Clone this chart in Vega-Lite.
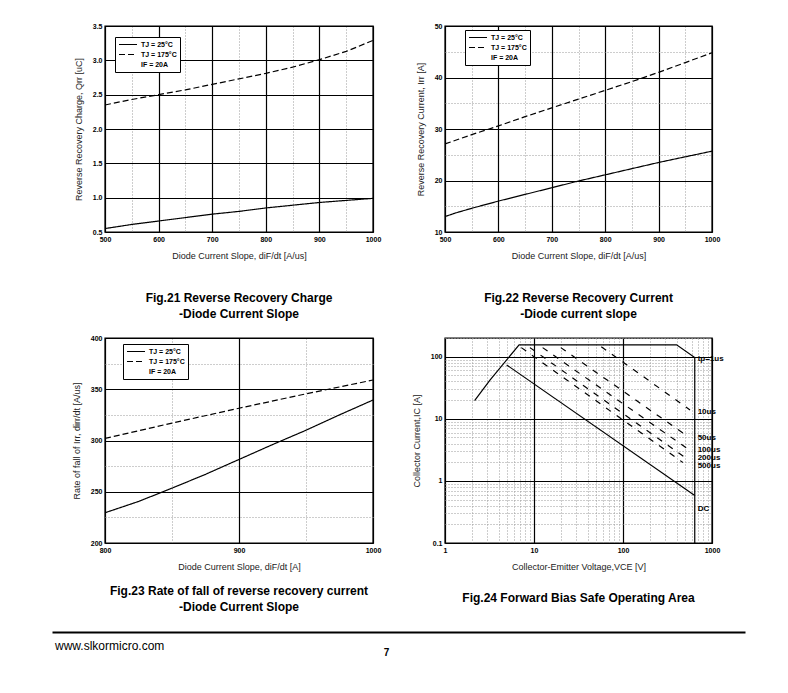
{
  "$schema": "https://vega.github.io/schema/vega-lite/v6.json",
  "padding": {"left": 55, "top": 21, "right": 5, "bottom": 5},
  "background": "white",
  "columns": 2,
  "bounds": "flush",
  "align": "none",
  "spacing": {"row": 106, "column": 72},
  "resolve": {"scale": {"strokeDash": "independent"}, "legend": {"strokeDash": "independent"}},
  "config": {
    "font": "Liberation Sans",
    "view": {"stroke": "black", "strokeWidth": 1.4},
    "axis": {
      "domain": false, "ticks": false, "grid": true, "gridColor": "black", "gridWidth": 1.2, "gridOpacity": 1,
      "labelFontSize": 7, "labelFontWeight": "bold", "labelColor": "black", "labelPadding": 3,
      "labelFlush": false, "labelOverlap": false, "labelBound": false,
      "titleFontSize": 9, "titleFontWeight": "normal", "titleColor": "#222222", "titlePadding": 9
    },
    "legend": {
      "orient": "none", "symbolType": "stroke", "symbolStrokeColor": "black", "symbolStrokeWidth": 1.2,
      "symbolSize": 324, "clipHeight": 9, "labelFontSize": 7, "labelFontWeight": "bold", "labelColor": "black",
      "fillColor": "white", "strokeColor": "black", "padding": 3, "rowPadding": 1, "labelOffset": 3
    },
    "title": {"fontSize": 12, "fontWeight": "bold", "color": "black", "orient": "bottom", "anchor": "middle", "lineHeight": 16}
  },
  "datasets": {
    "qrr": [
      {"slope": 500, "value": 0.55, "series": "TJ = 25°C"},
      {"slope": 550, "value": 0.61, "series": "TJ = 25°C"},
      {"slope": 600, "value": 0.66, "series": "TJ = 25°C"},
      {"slope": 650, "value": 0.71, "series": "TJ = 25°C"},
      {"slope": 700, "value": 0.76, "series": "TJ = 25°C"},
      {"slope": 750, "value": 0.80, "series": "TJ = 25°C"},
      {"slope": 800, "value": 0.85, "series": "TJ = 25°C"},
      {"slope": 850, "value": 0.89, "series": "TJ = 25°C"},
      {"slope": 900, "value": 0.93, "series": "TJ = 25°C"},
      {"slope": 950, "value": 0.96, "series": "TJ = 25°C"},
      {"slope": 1000, "value": 0.99, "series": "TJ = 25°C"},
      {"slope": 500, "value": 2.35, "series": "TJ = 175°C"},
      {"slope": 550, "value": 2.43, "series": "TJ = 175°C"},
      {"slope": 600, "value": 2.50, "series": "TJ = 175°C"},
      {"slope": 650, "value": 2.57, "series": "TJ = 175°C"},
      {"slope": 700, "value": 2.65, "series": "TJ = 175°C"},
      {"slope": 750, "value": 2.73, "series": "TJ = 175°C"},
      {"slope": 800, "value": 2.81, "series": "TJ = 175°C"},
      {"slope": 850, "value": 2.90, "series": "TJ = 175°C"},
      {"slope": 900, "value": 3.01, "series": "TJ = 175°C"},
      {"slope": 950, "value": 3.13, "series": "TJ = 175°C"},
      {"slope": 1000, "value": 3.29, "series": "TJ = 175°C"}
    ],
    "irr": [
      {"slope": 500, "value": 13.0, "series": "TJ = 25°C"},
      {"slope": 520, "value": 13.7, "series": "TJ = 25°C"},
      {"slope": 550, "value": 14.6, "series": "TJ = 25°C"},
      {"slope": 600, "value": 16.0, "series": "TJ = 25°C"},
      {"slope": 650, "value": 17.3, "series": "TJ = 25°C"},
      {"slope": 700, "value": 18.6, "series": "TJ = 25°C"},
      {"slope": 750, "value": 19.9, "series": "TJ = 25°C"},
      {"slope": 800, "value": 21.1, "series": "TJ = 25°C"},
      {"slope": 850, "value": 22.3, "series": "TJ = 25°C"},
      {"slope": 900, "value": 23.5, "series": "TJ = 25°C"},
      {"slope": 950, "value": 24.6, "series": "TJ = 25°C"},
      {"slope": 1000, "value": 25.7, "series": "TJ = 25°C"},
      {"slope": 500, "value": 27.1, "series": "TJ = 175°C"},
      {"slope": 550, "value": 28.9, "series": "TJ = 175°C"},
      {"slope": 600, "value": 30.6, "series": "TJ = 175°C"},
      {"slope": 650, "value": 32.4, "series": "TJ = 175°C"},
      {"slope": 700, "value": 34.1, "series": "TJ = 175°C"},
      {"slope": 750, "value": 35.8, "series": "TJ = 175°C"},
      {"slope": 800, "value": 37.5, "series": "TJ = 175°C"},
      {"slope": 850, "value": 39.2, "series": "TJ = 175°C"},
      {"slope": 900, "value": 41.0, "series": "TJ = 175°C"},
      {"slope": 950, "value": 42.9, "series": "TJ = 175°C"},
      {"slope": 1000, "value": 44.8, "series": "TJ = 175°C"}
    ],
    "dirr": [
      {"slope": 800, "value": 229.5, "series": "TJ = 25°C"},
      {"slope": 825, "value": 240.5, "series": "TJ = 25°C"},
      {"slope": 850, "value": 253.5, "series": "TJ = 25°C"},
      {"slope": 875, "value": 267.0, "series": "TJ = 25°C"},
      {"slope": 900, "value": 281.5, "series": "TJ = 25°C"},
      {"slope": 925, "value": 296.0, "series": "TJ = 25°C"},
      {"slope": 950, "value": 310.0, "series": "TJ = 25°C"},
      {"slope": 975, "value": 325.0, "series": "TJ = 25°C"},
      {"slope": 1000, "value": 339.5, "series": "TJ = 25°C"},
      {"slope": 800, "value": 302.0, "series": "TJ = 175°C"},
      {"slope": 850, "value": 317.0, "series": "TJ = 175°C"},
      {"slope": 900, "value": 331.5, "series": "TJ = 175°C"},
      {"slope": 950, "value": 345.5, "series": "TJ = 175°C"},
      {"slope": 1000, "value": 359.0, "series": "TJ = 175°C"}
    ],
    "soa_lines": [
      {"curve": "tp=1us", "k": 0, "v": 2.15, "i": 19.6},
      {"curve": "tp=1us", "k": 1, "v": 3.2, "i": 42},
      {"curve": "tp=1us", "k": 2, "v": 6.8, "i": 155},
      {"curve": "tp=1us", "k": 3, "v": 400, "i": 155},
      {"curve": "tp=1us", "k": 4, "v": 640, "i": 97},
      {"curve": "tp=1us", "k": 5, "v": 640, "i": 0.1},
      {"curve": "DC", "k": 0, "v": 4.93, "i": 73.6},
      {"curve": "DC", "k": 1, "v": 640, "i": 0.58}
    ],
    "soa_pulse": [
      {"pulse": "10us", "v": 57, "i": 145},
      {"pulse": "10us", "v": 566, "i": 13.9},
      {"pulse": "50us", "v": 20, "i": 140},
      {"pulse": "50us", "v": 525, "i": 5.3},
      {"pulse": "100us", "v": 12.5, "i": 140},
      {"pulse": "100us", "v": 515, "i": 3.4},
      {"pulse": "200us", "v": 9, "i": 140},
      {"pulse": "200us", "v": 480, "i": 2.47},
      {"pulse": "500us", "v": 7.2, "i": 140},
      {"pulse": "500us", "v": 470, "i": 1.98}
    ],
    "soa_labels": [
      {"label": "tp=1us", "v": 690, "i": 92},
      {"label": "10us", "v": 690, "i": 13.1},
      {"label": "50us", "v": 690, "i": 4.9},
      {"label": "100us", "v": 690, "i": 3.1},
      {"label": "200us", "v": 690, "i": 2.33},
      {"label": "500us", "v": 690, "i": 1.71},
      {"label": "DC", "v": 690, "i": 0.35}
    ],
    "footer": [{"page": "7"}]
  },
  "concat": [
    {
      "width": 268, "height": 206,
      "title": {"text": ["Fig.21 Reverse Recovery Charge", "-Diode Current Slope"], "offset": 33},
      "data": {"name": "qrr"},
      "mark": {"type": "line", "color": "black", "strokeWidth": 1.2},
      "encoding": {
        "x": {"field": "slope", "type": "quantitative", "scale": {"domain": [500, 1000], "nice": false, "zero": false},
          "axis": {"title": "Diode Current Slope, diF/dt [A/us]", "format": "d", "values": [500, 550, 600, 650, 700, 750, 800, 850, 900, 950, 1000],
            "labelExpr": "datum.value % 100 === 0 ? datum.label : ''",
            "gridDash": {"condition": {"test": "datum.value % 100 !== 0", "value": [1, 2]}, "value": []},
            "gridColor": {"condition": {"test": "datum.value % 100 !== 0", "value": "#9a9a9a"}, "value": "black"},
            "gridWidth": {"condition": {"test": "datum.value % 100 !== 0", "value": 1}, "value": 1.2}}},
        "y": {"field": "value", "type": "quantitative", "scale": {"domain": [0.5, 3.5], "nice": false, "zero": false},
          "axis": {"title": "Reverse Recovery Charge, Qrr [uC]", "values": [0.5, 1, 1.5, 2, 2.5, 3, 3.5], "format": ".1f"}},
        "strokeDash": {"field": "series", "type": "nominal",
          "scale": {"domain": ["TJ = 25°C", "TJ = 175°C", "IF = 20A"], "range": [[1, 0], [6, 3], [0, 100]]},
          "legend": {"title": null, "legendX": 10, "legendY": 11}}
      }
    },
    {
      "width": 267, "height": 206,
      "title": {"text": ["Fig.22 Reverse Recovery Current", "-Diode current slope"], "offset": 33},
      "data": {"name": "irr"},
      "mark": {"type": "line", "color": "black", "strokeWidth": 1.2},
      "encoding": {
        "x": {"field": "slope", "type": "quantitative", "scale": {"domain": [500, 1000], "nice": false, "zero": false},
          "axis": {"title": "Diode Current Slope, diF/dt [A/us]", "format": "d", "values": [500, 550, 600, 650, 700, 750, 800, 850, 900, 950, 1000],
            "labelExpr": "datum.value % 100 === 0 ? datum.label : ''",
            "gridDash": {"condition": {"test": "datum.value % 100 !== 0", "value": [1, 2]}, "value": []},
            "gridColor": {"condition": {"test": "datum.value % 100 !== 0", "value": "#9a9a9a"}, "value": "black"},
            "gridWidth": {"condition": {"test": "datum.value % 100 !== 0", "value": 1}, "value": 1.2}}},
        "y": {"field": "value", "type": "quantitative", "scale": {"domain": [10, 50], "nice": false, "zero": false},
          "axis": {"title": "Reverse Recovery Current, Irr [A]", "values": [10, 15, 20, 25, 30, 35, 40, 45, 50],
            "labelExpr": "datum.value % 10 === 0 ? datum.label : ''",
            "gridDash": {"condition": {"test": "datum.value % 10 !== 0", "value": [1, 2]}, "value": []},
            "gridColor": {"condition": {"test": "datum.value % 10 !== 0", "value": "#9a9a9a"}, "value": "black"},
            "gridWidth": {"condition": {"test": "datum.value % 10 !== 0", "value": 1}, "value": 1.2}}},
        "strokeDash": {"field": "series", "type": "nominal",
          "scale": {"domain": ["TJ = 25°C", "TJ = 175°C", "IF = 20A"], "range": [[1, 0], [6, 3], [0, 100]]},
          "legend": {"title": null, "legendX": 20, "legendY": 4}}
      }
    },
    {
      "width": 268, "height": 205,
      "title": {"text": ["Fig.23 Rate of fall of reverse recovery current", "-Diode Current Slope"], "offset": 15},
      "data": {"name": "dirr"},
      "mark": {"type": "line", "color": "black", "strokeWidth": 1.2},
      "encoding": {
        "x": {"field": "slope", "type": "quantitative", "scale": {"domain": [800, 1000], "nice": false, "zero": false},
          "axis": {"title": "Diode Current Slope, diF/dt [A]", "format": "d", "values": [800, 850, 900, 950, 1000],
            "labelExpr": "datum.value % 100 === 0 ? datum.label : ''",
            "gridDash": {"condition": {"test": "datum.value % 100 !== 0", "value": [1, 2]}, "value": []},
            "gridColor": {"condition": {"test": "datum.value % 100 !== 0", "value": "#9a9a9a"}, "value": "black"},
            "gridWidth": {"condition": {"test": "datum.value % 100 !== 0", "value": 1}, "value": 1.2}}},
        "y": {"field": "value", "type": "quantitative", "scale": {"domain": [200, 400], "nice": false, "zero": false},
          "axis": {"title": "Rate of fall of Irr, dirr/dt [A/us]", "values": [200, 225, 250, 275, 300, 325, 350, 375, 400],
            "labelExpr": "datum.value % 50 === 0 ? datum.label : ''",
            "gridDash": {"condition": {"test": "datum.value % 50 !== 0", "value": [1, 2]}, "value": []},
            "gridColor": {"condition": {"test": "datum.value % 50 !== 0", "value": "#9a9a9a"}, "value": "black"},
            "gridWidth": {"condition": {"test": "datum.value % 50 !== 0", "value": 1}, "value": 1.2}}},
        "strokeDash": {"field": "series", "type": "nominal",
          "scale": {"domain": ["TJ = 25°C", "TJ = 175°C", "IF = 20A"], "range": [[1, 0], [6, 3], [0, 100]]},
          "legend": {"title": null, "legendX": 18, "legendY": 6}}
      }
    },
    {
      "width": 267, "height": 205,
      "title": {"text": "Fig.24 Forward Bias Safe Operating Area", "offset": 22},
      "encoding": {
        "x": {"field": "v", "type": "quantitative", "scale": {"type": "log", "domain": [1, 1000], "nice": false},
          "axis": {"title": "Collector-Emitter Voltage,VCE [V]",
            "values": [1, 2, 3, 4, 5, 6, 7, 8, 9, 10, 20, 30, 40, 50, 60, 70, 80, 90, 100, 200, 300, 400, 500, 600, 700, 800, 900, 1000],
            "labelExpr": "indexof([1, 10, 100, 1000], datum.value) >= 0 ? '' + datum.value : ''",
            "gridDash": {"condition": {"test": "indexof([1, 10, 100, 1000], datum.value) < 0", "value": [1, 2]}, "value": []},
            "gridColor": {"condition": {"test": "indexof([1, 10, 100, 1000], datum.value) < 0", "value": "#9a9a9a"}, "value": "black"},
            "gridWidth": {"condition": {"test": "indexof([1, 10, 100, 1000], datum.value) < 0", "value": 1}, "value": 1.2}}},
        "y": {"field": "i", "type": "quantitative", "scale": {"type": "log", "domain": [0.1, 200], "nice": false},
          "axis": {"title": "Collector Current,IC [A]",
            "values": [0.1, 0.2, 0.3, 0.4, 0.5, 0.6, 0.7, 0.8, 0.9, 1, 2, 3, 4, 5, 6, 7, 8, 9, 10, 20, 30, 40, 50, 60, 70, 80, 90, 100, 200],
            "labelExpr": "indexof([0.1, 1, 10, 100], datum.value) >= 0 ? '' + datum.value : ''",
            "gridDash": {"condition": {"test": "indexof([0.1, 1, 10, 100], datum.value) < 0", "value": [1, 2]}, "value": []},
            "gridColor": {"condition": {"test": "indexof([0.1, 1, 10, 100], datum.value) < 0", "value": "#9a9a9a"}, "value": "black"},
            "gridWidth": {"condition": {"test": "indexof([0.1, 1, 10, 100], datum.value) < 0", "value": 1}, "value": 1.2}}}
      },
      "layer": [
        {
          "data": {"name": "soa_lines"},
          "mark": {"type": "line", "color": "black", "strokeWidth": 1.2},
          "encoding": {"detail": {"field": "curve"}, "order": {"field": "k"}}
        },
        {
          "data": {"name": "soa_pulse"},
          "mark": {"type": "line", "color": "black", "strokeWidth": 1.2, "strokeDash": [6, 7]},
          "encoding": {"detail": {"field": "pulse"}}
        },
        {
          "data": {"name": "soa_labels"},
          "mark": {"type": "text", "align": "left", "baseline": "middle", "fontSize": 8, "fontWeight": "bold", "color": "black"},
          "encoding": {"text": {"field": "label"}}
        }
      ]
    },
    {
      "width": 200, "height": 1,
      "view": {"stroke": null},
      "title": {"text": "www.slkormicro.com", "orient": "bottom", "anchor": "start", "fontSize": 12, "fontWeight": "normal", "offset": -17, "dx": -50},
      "data": {"name": "footer"},
      "mark": {"type": "text", "fontSize": 10, "fontWeight": "bold", "color": "black", "dx": -12, "dy": 3},
      "encoding": {
        "text": {"field": "page"},
        "x": {"field": "page", "type": "nominal", "scale": {"type": "point", "range": [-53, 640]},
          "axis": {"orient": "top", "offset": 17, "domain": true, "domainColor": "black", "domainWidth": 2,
            "labels": false, "ticks": false, "grid": false, "title": null}}
      }
    }
  ]
}
